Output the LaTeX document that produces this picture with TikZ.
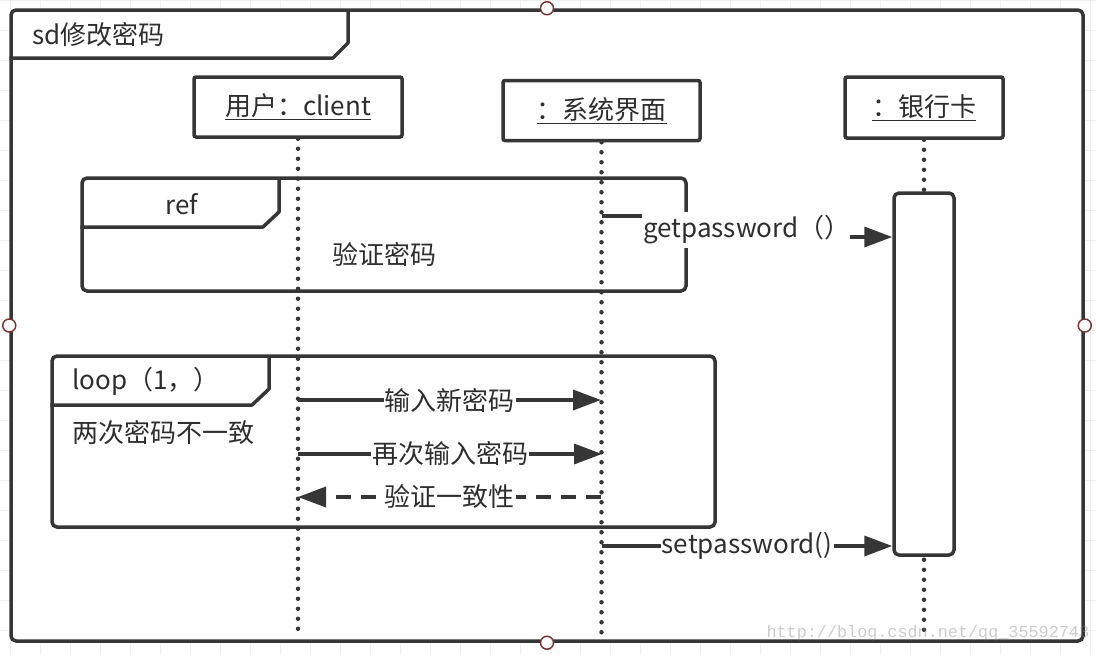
\documentclass[tikz,border=0pt]{standalone}
\usepackage{fontspec}
\setmainfont{Noto Sans CJK SC}
\newfontfamily\wmfont{Liberation Mono}
\usepackage{tikz}
\usetikzlibrary{arrows.meta,positioning}
\definecolor{linegray}{HTML}{363636}
\definecolor{textgray}{HTML}{2E2E2E}
\definecolor{markred}{HTML}{7A3535}
\definecolor{gridgray}{HTML}{EFEFEF}
\tikzset{framebox/.style={draw=linegray, line width=3.5pt, rounded corners=5pt, inner sep=0pt}}
\tikzset{tabline/.style={draw=linegray, line width=3.5pt, line join=round}}
\tikzset{headbox/.style={draw=linegray, line width=3.5pt, rounded corners=2pt, fill=white, inner sep=0pt}}
\tikzset{
  lifeline/.style={linegray, line width=4.5pt, line cap=round, dash pattern=on 0pt off 10pt},
  msg/.style={linegray, line width=3.5pt, -{Triangle[length=28pt,width=20pt]}},
  reply/.style={msg, dash pattern=on 15pt off 10pt},
  lbl/.style={fill=white, inner sep=1pt, text=textgray},
  handle/.style={circle, draw=markred, fill=white, line width=1.5pt, minimum size=13pt, inner sep=0pt},
  gridline/.style={gridgray, line width=1pt}
}

\begin{document}
\begin{tikzpicture}[x=1pt, y=-1pt, font=\fontsize{26}{30}\selectfont, text=textgray]
\useasboundingbox (0,0) rectangle (1096,654);
\foreach \gx in {10,40,...,1090} \draw[gridline] (\gx,0) -- (\gx,654);
\foreach \gy in {0,30,...,650} \draw[gridline] (0,\gy) -- (1096,\gy);

\node[framebox, fill=white, minimum width=1072pt, minimum height=631pt] (sd) at (547,325.5) {};
\draw[tabline] (sd.west |- 0,58) -- (333,58) -- (348,43) -- (348,10);
\node[anchor=west] (sdname) at (29,35) {sd修改密码};

\node[headbox, minimum width=208pt, minimum height=60pt] (user) at (298,107) {\underline{用户：client}};
\node[headbox, minimum width=197pt, minimum height=60pt] (sys) at (601.5,110.5) {\underline{：系统界面}};
\node[headbox, minimum width=158pt, minimum height=61pt] (bank) at (924,107.5) {\underline{：银行卡}};

\draw[lifeline] (user.south) -- (user.south |- 0,636);
\draw[lifeline] (sys.south) -- (sys.south |- 0,636);
\draw[lifeline] (bank.south) -- (bank.south |- 0,636);
\node[headbox, rounded corners=5pt, minimum width=60pt, minimum height=362pt] (act) at (924,374) {};

\node[framebox, minimum width=604pt, minimum height=113pt] (ref) at (384,234.5) {};
\draw[tabline] (ref.west |- 0,227) -- (263,227) -- (279,212) -- (279,178);
\node (refname) at (182,204) {ref};
\node (refbody) at (384,254) {验证密码};

\node[framebox, minimum width=663pt, minimum height=171pt] (loop) at (383.5,441.5) {};
\draw[tabline] (loop.west |- 0,405) -- (252,405) -- (269,389) -- (269,356);
\node[anchor=west] (loopname) at (69,381) {loop（1，）};
\node[anchor=west] (guard) at (69,433) {两次密码不一致};

\coordinate (g0) at (602,216);
\coordinate (g1) at (700,216);
\coordinate (g2) at (act.west |- 0,237);
\draw[msg] (g0) -- (g1) |- (g2);
\node[lbl, anchor=west, minimum height=36pt, text width=206pt] (getpw) at (642,230) {getpassword（）};

\coordinate (u1) at (298,400);
\coordinate (s1) at (601,400);
\draw[msg] (u1) -- node[lbl] (m1) {输入新密码} (s1);
\coordinate (u2) at (298,454);
\coordinate (s2) at (602,454);
\draw[msg] (u2) -- node[lbl] (m2) {再次输入密码} (s2);
\coordinate (s3) at (601,497);
\coordinate (u3) at (298,497);
\draw[reply] (s3) -- node[lbl] (m3) {验证一致性} (u3);
\coordinate (s4) at (602,546);
\coordinate (a4) at (act.west |- 0,546);
\draw[msg] (s4) -- node[lbl] (m4) {setpassword()} (a4);

\node[handle] (hn) at (sd.north) {};
\node[handle] (hs) at (sd.south) {};
\node[handle] (hw) at (sd.west) {};
\node[handle] (he) at (sd.east) {};

\node[anchor=west, text=gray, text opacity=0.4, font=\wmfont\fontsize{16.8}{18}\selectfont] (wm) at (763,633) {http://blog.csdn.net/qq\_35592743};
\end{tikzpicture}
\end{document}
